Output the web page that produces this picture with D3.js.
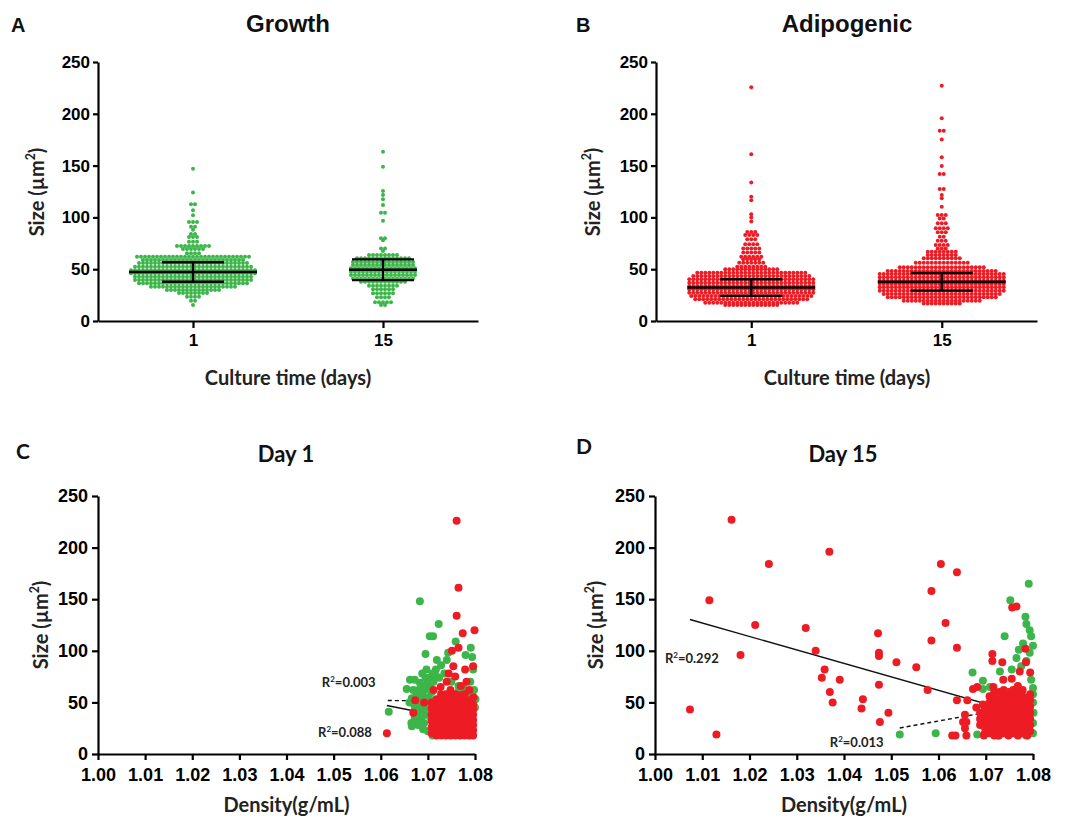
<!DOCTYPE html>
<head>
    <meta charset="utf-8">
    <title>Growth vs Adipogenic</title>
    <script src="https://d3js.org/d3.v7.min.js"></script>
    <style>
        body { margin: 0; background: #fff; }
        .axis path, .axis line { stroke: #000; stroke-width: 2.2px; }
        .axis text { font-family: "Liberation Sans", Arial, sans-serif; font-weight: bold; fill: #000; }
        .lbl { font-family: Lato, "Open Sans", sans-serif; font-weight: bold; fill: #222; }
        .ttl { font-family: "Liberation Sans", Arial, sans-serif; font-weight: bold; fill: #111; }
    </style>
</head>
<body>
<div id="container"></div>
<script>
    //----------------------------DATA-------------------------------//
    const days = ["1", "15"];
    const sizeTicks = [0, 50, 100, 150, 200, 250];
    const densityTicks = [1.00, 1.01, 1.02, 1.03, 1.04, 1.05, 1.06, 1.07, 1.08];

    // scatter dot plot rows: [size, number of cells in that row]
    const growthDay1 = [[147,1],[124,1],[112.6,2],[107,1],[102,1],[95.5,3],[91,2],[88,1],[84,2],[81,3],[76.6,3],
        [72.4,9],[69.5,6],[65.5,4],[62,29],[59,26],[56,28],[52.4,30],[49,32],[46,32],[42.8,30],[39.6,30],[36.5,28],
        [33,22],[30,14],[27,8],[23.5,4],[19.6,2],[15.5,1]];
    const growthDay15 = [[163.4,1],[149,1],[125.5,1],[121.6,1],[117.5,1],[112,1],[104.6,2],[96.8,1],[79.8,2],[78,1],
        [70,2],[67.5,1],[63.7,8],[60.6,14],[57,16],[54,16],[50.8,17],[47.6,17],[44.4,17],[41,16],[38,12],[34,8],
        [30.6,6],[26.7,6],[22.9,4],[18,5],[15.5,2]];
    const adipoDay1 = [[225.6,1],[161,1],[133.8,1],[120,1],[116.6,1],[103,1],[100,1],[96,1],[86,3],[83,4],[79,3],
        [74,4],[70,5],[66,5],[62,6],[59.5,5],[56.3,7],[52.4,8],[49.9,14],[46.6,28],[43.4,30],[40.2,32],[37,32],
        [33.8,32],[30.6,32],[27.3,32],[24.1,31],[21,29],[17.7,24],[15.5,14]];
    const adipoDay15 = [[227,1],[195.6,1],[183.7,2],[175.3,1],[158,1],[149.6,1],[141.9,2],[127.4,2],[121.6,1],
        [118.4,1],[110.3,1],[102.3,3],[99,2],[94.3,3],[89.5,4],[85.6,3],[81.4,2],[77.5,3],[73.4,4],[70,3],[66.9,8],
        [63.7,8],[60.5,10],[56.3,14],[51.8,22],[48.3,28],[45.4,32],[42.2,32],[38.9,32],[35.7,32],[32.5,32],
        [29.3,32],[26.1,30],[22.9,28],[19.6,20],[17,10]];

    // mean and SD per day
    const growthMean = [47.3, 49.5], growthSD = [9.4, 10.0];
    const adipoMean = [32.3, 37.8], adipoSD = [8.0, 8.5];

    // Day 1 scatter: [density, size]
    const day1Green = [[1.0683,148],[1.0723,126],[1.0704,114],[1.0711,114],[1.0695,97],[1.0743,98],[1.0759,109],
        [1.0791,103],[1.0794,94],[1.0780,96],[1.0796,82],[1.0801,53],[1.0719,91],[1.0728,86],[1.0697,82],[1.0717,82],
        [1.0703,74],[1.0662,72],[1.0672,72],[1.0683,69],[1.0655,63],[1.0669,62],[1.0693,62],[1.0666,54],[1.0676,57],
        [1.0690,56],[1.0661,50],[1.0683,49],[1.0697,54],[1.0617,41],[1.0676,41],[1.0686,35],[1.0666,27],[1.0679,28],
        [1.0710,18],[1.0700,22],[1.0705,66],[1.0712,70],[1.0688,78],[1.0708,60],[1.0700,45],[1.0692,30],[1.0688,45],
        [1.0672,35],[1.0680,62],[1.0698,38],[1.0724,74],[1.0735,78],[1.0740,91],[1.0750,70],[1.0765,66],[1.0790,70],
        [1.0798,62],[1.0800,45],[1.0665,30],[1.0672,46],[1.0678,52],[1.0685,58],[1.0692,66],[1.0700,70],[1.0695,74],
        [1.0710,78],[1.0718,75],[1.0686,40],[1.0694,47],[1.0702,55],[1.0705,36],[1.0690,24],[1.0675,33],[1.0683,30],
        [1.0765,60],[1.0775,64],[1.0790,55]];
    const day1Red = [[1.0761,226],[1.0765,161],[1.0761,134],[1.0774,117],[1.0799,120],[1.0751,100],[1.0765,103],
        [1.0796,85],[1.0779,82],[1.0744,78],[1.0754,85],[1.0758,75],[1.0782,70],[1.0712,62],[1.0727,65],[1.0788,62],
        [1.0673,52],[1.0692,50],[1.0669,40],[1.0613,20],[1.0740,70],[1.0770,66],[1.0797,55]];
    // dense core of the day 1 red cloud, by density column
    const day1RedCore = [
        [1.0708, [20,26,32,38,44,50]],
        [1.0718, [18,23,28,33,38,43,48,53]],
        [1.0728, [18,23,28,33,38,43,48,53,58]],
        [1.0738, [18,23,28,33,38,43,48,53,58]],
        [1.0748, [18,23,28,33,38,43,48,53,58,62]],
        [1.0758, [18,23,28,33,38,43,48,53,58]],
        [1.0768, [18,23,28,33,38,43,48,53,57]],
        [1.0778, [18,23,28,33,38,43,48,53,58]],
        [1.0788, [18,23,28,33,38,43,48,52]],
        [1.0796, [18,23,28,33,38,43,48]]
    ];

    // Day 15 scatter
    const day15Green = [[1.0791,165],[1.0752,149],[1.0784,133],[1.0786,126],[1.0793,120],[1.0796,114],[1.0800,105],
        [1.0740,114],[1.0779,107],[1.0770,101],[1.0793,98],[1.0672,79],[1.0694,71],[1.0730,80],[1.0755,82],[1.0775,85],
        [1.0796,72],[1.0800,64],[1.0518,19],[1.0594,20],[1.0682,19],[1.0709,65],[1.0694,63],[1.0800,20],[1.0800,30],
        [1.0801,40],[1.0800,50],[1.0800,58],[1.0725,18],[1.0785,18],[1.0765,93],[1.0786,90]];
    const day15Red = [[1.0074,43],[1.0115,149],[1.0130,19],[1.0162,227],[1.0181,96],[1.0212,125],[1.0241,184],
        [1.0319,122],[1.0340,100],[1.0359,82],[1.0353,74],[1.0369,196],[1.0370,60],[1.0376,50],[1.0391,72],
        [1.0437,44],[1.0440,53],[1.0472,117],[1.0474,98],[1.0474,95],[1.0474,67],[1.0476,31],[1.0494,40],
        [1.0511,89],[1.0553,84],[1.0577,62],[1.0585,158],[1.0585,110],[1.0605,184],[1.0615,127],[1.0639,176],
        [1.0639,103],[1.0639,52],[1.0629,18],[1.0636,18],[1.0656,38],[1.0652,31],[1.0659,31],[1.0656,25],
        [1.0659,18],[1.0661,52],[1.0673,63],[1.0680,45],[1.0682,65],[1.0696,18],[1.0694,48],[1.0714,97],
        [1.0714,90],[1.0735,89],[1.0756,142],[1.0765,143],[1.0784,102],[1.0785,89],[1.0794,79],[1.0772,80],
        [1.0755,73],[1.0737,72],[1.0716,65]];
    const day15RedCore = [
        [1.0688, [28,34,40]],
        [1.0698, [20,26,32,38,44]],
        [1.0708, [20,26,32,38,44,50,56]],
        [1.0718, [18,24,30,36,42,48,54,60]],
        [1.0728, [18,24,30,36,42,48,54,60]],
        [1.0738, [20,26,32,38,44,50,56,62]],
        [1.0748, [18,24,30,36,42,48,54,60]],
        [1.0758, [20,26,32,38,44,50,56,62]],
        [1.0768, [18,24,30,36,42,48,54,60,66]],
        [1.0778, [20,26,32,38,44,50,56,62]],
        [1.0788, [18,24,30,36,42,48,54]],
        [1.0794, [22,28,34,40,46,52,58]]
    ];

    // fitted lines: [x1, y1, x2, y2]
    const day1GreenFit = [1.0615, 51.8, 1.0800, 51.2];
    const day1RedFit = [1.0613, 47.0, 1.0800, 30.0];
    const day15RedFit = [1.0074, 130.3, 1.0800, 35.6];
    const day15GreenFit = [1.0518, 25.2, 1.0800, 48.5];

    const day1Labels = [{t: "0.003", x: 1.0475, y: 65}, {t: "0.088", x: 1.0467, y: 16.5}];
    const day15Labels = [{t: "0.292", x: 1.0021, y: 88}, {t: "0.013", x: 1.0370, y: 7}];

    const green = "#3cb64a";
    const red = "#ed1c24";

    //-----------------------------SVG-------------------------------//
    const svg = d3.select("#container").append("svg")
        .attr("width", 1066)
        .attr("height", 820);

    function sizeLabel(g, x, y, fs) {
        const t = g.append("text").attr("class", "lbl")
            .attr("transform", `translate(${x},${y}) rotate(-90)`)
            .attr("text-anchor", "middle")
            .style("font-size", fs + "px");
        t.append("tspan").text("Size (µm");
        t.append("tspan").text("2").attr("dy", -fs * 0.45).style("font-size", (fs * 0.62) + "px");
        t.append("tspan").text(")").attr("dy", fs * 0.45);
    }

    //-------------------------DOT PLOTS (A,B)------------------------//
    function dotPlot(p) {
        const x = d3.scalePoint().domain(days).range([p.left, p.right]).padding(0.5);
        const y = d3.scaleLinear().domain([0, 250]).range([p.bottom, p.top]);
        const g = svg.append("g");

        g.append("g").attr("class", "axis")
            .attr("transform", `translate(0,${p.bottom})`)
            .call(d3.axisBottom(x).tickSize(7).tickSizeOuter(0).tickPadding(6))
            .selectAll("text").style("font-size", "17px");
        g.append("g").attr("class", "axis")
            .attr("transform", `translate(${p.left},0)`)
            .call(d3.axisLeft(y).tickValues(sizeTicks).tickSize(5).tickSizeOuter(0).tickPadding(3))
            .selectAll("text").style("font-size", "17px");

        const step = 4;
        p.groups.forEach(function(rows, i) {
            const cx = x(days[i]);
            const pts = [];
            let maxN = 0;
            rows.forEach(function(r) {
                maxN = Math.max(maxN, r[1]);
                for (let k = 0; k < r[1]; k++) pts.push({v: r[0], dx: (k - (r[1] - 1) / 2) * step});
            });
            g.append("g").selectAll("circle")
                .data(pts).enter().append("circle")
                .attr("cx", d => cx + d.dx)
                .attr("cy", d => y(d.v))
                .attr("r", 2.0)
                .attr("fill", p.color);

            const half = maxN * step / 2;
            const m = p.mean[i], s = p.sd[i];
            const bars = g.append("g").attr("stroke", "#000");
            bars.append("line").attr("x1", cx - half).attr("x2", cx + half)
                .attr("y1", y(m)).attr("y2", y(m)).attr("stroke-width", 2.6);
            bars.append("line").attr("x1", cx).attr("x2", cx)
                .attr("y1", y(m - s)).attr("y2", y(m + s)).attr("stroke-width", 2.2);
            [m - s, m + s].forEach(function(v) {
                bars.append("line").attr("x1", cx - 31).attr("x2", cx + 31)
                    .attr("y1", y(v)).attr("y2", y(v)).attr("stroke-width", 2.4);
            });
        });

        g.append("text").attr("class", "ttl").attr("x", p.titleX).attr("y", 32)
            .attr("text-anchor", "middle").style("font-size", "24px").text(p.title);
        g.append("text").attr("class", "ttl").attr("x", p.letterX).attr("y", 32)
            .style("font-size", "20px").text(p.letter);
        g.append("text").attr("class", "lbl").attr("x", p.titleX).attr("y", 385)
            .attr("text-anchor", "middle").style("font-size", "20px").text("Culture time (days)");
        sizeLabel(g, p.labelX, 192, 20);
    }

    dotPlot({left: 98, right: 478, top: 62, bottom: 321, groups: [growthDay1, growthDay15],
        mean: growthMean, sd: growthSD, color: green, title: "Growth", titleX: 288, letter: "A", letterX: 11, labelX: 44});
    dotPlot({left: 656, right: 1037, top: 62, bottom: 321, groups: [adipoDay1, adipoDay15],
        mean: adipoMean, sd: adipoSD, color: red, title: "Adipogenic", titleX: 847, letter: "B", letterX: 576, labelX: 600});

    //-------------------------SCATTERS (C,D)------------------------//
    function scatter(p) {
        const x = d3.scaleLinear().domain([1.00, 1.08]).range([p.left, p.right]);
        const y = d3.scaleLinear().domain([0, 250]).range([p.bottom, p.top]);
        const g = svg.append("g");

        g.append("g").attr("class", "axis")
            .attr("transform", `translate(0,${p.bottom})`)
            .call(d3.axisBottom(x).tickValues(densityTicks).tickFormat(d3.format(".2f"))
                .tickSize(6).tickSizeOuter(0).tickPadding(8))
            .selectAll("text").style("font-size", "18px");
        g.append("g").attr("class", "axis")
            .attr("transform", `translate(${p.left},0)`)
            .call(d3.axisLeft(y).tickValues(sizeTicks).tickSize(6).tickSizeOuter(0).tickPadding(4))
            .selectAll("text").style("font-size", "18px");

        g.append("line").attr("x1", x(p.greenFit[0])).attr("y1", y(p.greenFit[1]))
            .attr("x2", x(p.greenFit[2])).attr("y2", y(p.greenFit[3]))
            .attr("stroke", "#111").attr("stroke-width", 1.4).attr("stroke-dasharray", "4,3");
        g.append("line").attr("x1", x(p.redFit[0])).attr("y1", y(p.redFit[1]))
            .attr("x2", x(p.redFit[2])).attr("y2", y(p.redFit[3]))
            .attr("stroke", "#111").attr("stroke-width", 1.4);

        const reds = p.red.slice();
        p.core.forEach(c => c[1].forEach(v => reds.push([c[0], v])));

        g.append("g").selectAll("circle").data(p.green).enter().append("circle")
            .attr("cx", d => x(d[0])).attr("cy", d => y(d[1])).attr("r", 4).attr("fill", green);
        g.append("g").selectAll("circle").data(reds).enter().append("circle")
            .attr("cx", d => x(d[0])).attr("cy", d => y(d[1])).attr("r", 4).attr("fill", red);

        p.labels.forEach(function(l) {
            const t = g.append("text").attr("class", "lbl").attr("x", x(l.x)).attr("y", y(l.y))
                .style("font-size", "13px");
            t.append("tspan").text("R");
            t.append("tspan").text("2").attr("dy", -5).style("font-size", "8px");
            t.append("tspan").text("=" + l.t).attr("dy", 5);
        });

        g.append("text").attr("class", "lbl").attr("x", p.titleX).attr("y", 462)
            .attr("text-anchor", "middle").style("font-size", "22px").style("fill", "#111").text(p.title);
        g.append("text").attr("class", "lbl").attr("x", p.letterX).attr("y", p.letterY)
            .style("font-size", "21px").style("fill", "#111").text(p.letter);
        g.append("text").attr("class", "lbl").attr("x", (p.left + p.right) / 2).attr("y", 812)
            .attr("text-anchor", "middle").style("font-size", "20px").text("Density(g/mL)");
        sizeLabel(g, p.labelX, 625, 20);
    }

    scatter({left: 98, right: 475, top: 496, bottom: 754, green: day1Green, red: day1Red, core: day1RedCore,
        greenFit: day1GreenFit, redFit: day1RedFit, labels: day1Labels,
        title: "Day 1", titleX: 286, letter: "C", letterX: 16, letterY: 459, labelX: 48});
    scatter({left: 655, right: 1033, top: 496, bottom: 754, green: day15Green, red: day15Red, core: day15RedCore,
        greenFit: day15GreenFit, redFit: day15RedFit, labels: day15Labels,
        title: "Day 15", titleX: 843, letter: "D", letterX: 576, letterY: 454, labelX: 603});
</script>
</body>
